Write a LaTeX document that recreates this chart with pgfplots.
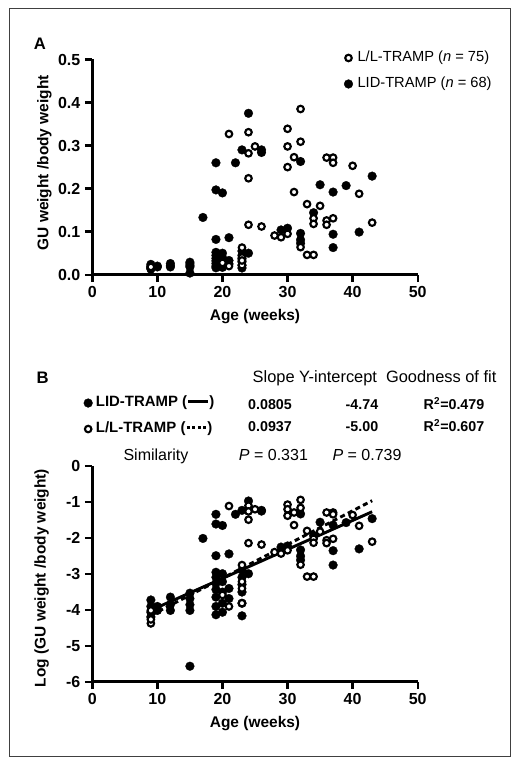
\documentclass[border=0pt]{standalone}
\usepackage{pgfplots}
\pgfplotsset{compat=1.18}
\usepackage{fontspec}
\setmainfont{Liberation Sans}
\begin{document}
\begin{tikzpicture}
\path[use as bounding box] (0,0) rectangle (397.5pt,-574.5pt);
\draw[line width=0.75pt, black!75] (6.75pt,-6.75pt) rectangle (382.5pt,-567pt);
\pgfplotsset{
  myaxis/.style={
    scale only axis, width=244.05pt, clip=false,
    axis lines=left, axis line style={-, line width=2.2pt},
    enlargelimits=false,
    xmin=0, xmax=50, xtick={0,10,20,30,40,50},
    tick align=outside, major tick length=5.5pt,
    every tick/.style={black, line width=1.8pt},
    tick label style={font=\bfseries\fontsize{12}{14}\selectfont},
    label style={font=\bfseries\fontsize{11.6}{13}\selectfont},
    /pgf/number format/assume math mode=true,
    xlabel={Age (weeks)},
    legend cell align=left,
    legend image code/.code={\draw[mark repeat=1,mark phase=1,##1] plot coordinates {(0pt,0pt)};},
  },
  lid/.style={only marks, mark=*, mark size=3.3pt, mark options={draw=black, fill=black, line width=0.2pt}},
  ll/.style={only marks, mark=*, mark size=2.45pt, mark options={draw=black, fill=white, line width=1.6pt}},
}
% ---------------- Panel A ----------------
\node[font=\bfseries\fontsize{12.5}{14}\selectfont] at (30pt,-33pt) {A};
\begin{axis}[myaxis, at={(69.225pt,-206.025pt)}, anchor=south west, height=161.4pt,
  ymin=0, ymax=0.5, ytick={0,0.1,0.2,0.3,0.4,0.5}, yticklabels={0.0,0.1,0.2,0.3,0.4,0.5},
  ylabel={GU weight /body weight},
  xlabel style={at={(axis description cs:0.5,-0.195)}, anchor=center},
  ylabel style={at={(axis description cs:-0.1475,0.52)}, anchor=center},
  reverse legend,
  legend style={at={(axis description cs:0.773,1.047)}, anchor=north west, draw=none, fill=none,
    inner sep=0pt, row sep=7pt, column sep=2.5pt, font=\fontsize{11}{13}\selectfont,
    nodes={inner sep=1pt, text height=8pt, text depth=2.5pt}},
]
\addplot[lid] coordinates {
(9,0.015) (9,0.017) (9,0.020) (9,0.024) (10,0.018) (10,0.020)
(12,0.018) (12,0.021) (12,0.026)
(15,0.0038) (15,0.018) (15,0.021) (15,0.025) (15,0.029)
(17,0.133)
(19,0.260) (19,0.197) (19,0.082) (19,0.052) (19,0.045) (19,0.038) (19,0.032) (19,0.026) (19,0.020) (19,0.016)
(20,0.190) (20,0.050) (20,0.040) (20,0.030) (20,0.022) (20,0.017)
(21,0.086) (21,0.033) (21,0.025)
(22,0.260)
(23,0.290) (23,0.055) (23,0.045) (23,0.037) (23,0.030) (23,0.022) (23,0.0155)
(24,0.375) (24,0.050)
(26,0.290) (26,0.284)
(29,0.104) (30,0.108)
(32,0.263) (32,0.096) (32,0.081) (32,0.073)
(34,0.144) (35,0.209)
(37,0.192) (37,0.094) (37,0.063)
(39,0.207) (41,0.099) (43,0.229)
};
\addlegendentry{LID-TRAMP (\textit{n} = 68)}
\addplot[ll] coordinates {
(9,0.0125) (9,0.014) (9,0.018)
(20,0.0275) (21,0.327) (21,0.020)
(23,0.063) (23,0.022) (23,0.040) (23,0.033)
(24,0.331) (24,0.282) (24,0.224) (24,0.116)
(25,0.298) (26,0.112) (28,0.091) (29,0.087)
(30,0.339) (30,0.298) (30,0.250) (30,0.095)
(31,0.273) (31,0.192)
(32,0.385) (32,0.309) (32,0.064)
(33,0.046) (33,0.164)
(34,0.046) (34,0.131) (34,0.118)
(35,0.160)
(36,0.272) (36,0.126) (36,0.116)
(37,0.272) (37,0.260) (37,0.131)
(40,0.253) (41,0.188) (43,0.121)
};
\addlegendentry{L/L-TRAMP (\textit{n} = 75)}
\end{axis}
% ---------------- Panel B ----------------
\node[font=\bfseries\fontsize{12.5}{14}\selectfont] at (31.9pt,-283.1pt) {B};
\node[anchor=base west, font=\fontsize{12.3}{14}\selectfont] at (186pt,-286.9pt) {Slope Y-intercept};
\node[anchor=base west, font=\fontsize{12.3}{14}\selectfont] at (286pt,-286.9pt) {Goodness of fit};
\begin{scope}[every node/.style={anchor=base, font=\bfseries\fontsize{10.7}{12}\selectfont}]
\node at (202.5pt,-307pt) {0.0805};
\node at (271.5pt,-307pt) {-4.74};
\node at (340.5pt,-307pt) {R\textsuperscript{2}=0.479};
\node at (202.5pt,-323.8pt) {0.0937};
\node at (271.5pt,-323.8pt) {-5.00};
\node at (340.5pt,-323.8pt) {R\textsuperscript{2}=0.607};
\end{scope}
\begin{scope}[every node/.style={anchor=base, font=\fontsize{12}{14}\selectfont}]
\node at (117pt,-345pt) {Similarity};
\node at (205.1pt,-345pt) {\textit{P} = 0.331};
\node at (275.25pt,-345pt) {\textit{P} = 0.739};
\end{scope}
\begin{axis}[myaxis, at={(69.225pt,-511.275pt)}, anchor=south west, height=162pt,
  ymin=-6, ymax=0, ytick={-6,-5,-4,-3,-2,-1,0}, yticklabels={-6,-5,-4,-3,-2,-1,0},
  ylabel={Log (GU weight /body weight)},
  xlabel style={at={(axis description cs:0.5,-0.194)}, anchor=center},
  ylabel style={at={(axis description cs:-0.156,0.48)}, anchor=center},
  legend style={at={(axis description cs:-0.027,1.33)}, anchor=north west, draw=none, fill=none,
    inner sep=0pt, row sep=7pt, column sep=1.5pt, font=\bfseries\fontsize{11.2}{12}\selectfont,
    nodes={inner sep=1pt, text height=8pt, text depth=2.5pt}},
]
\addplot[lid] coordinates {
(9,-4.20) (9,-4.07) (9,-3.91) (9,-3.73) (10,-4.02) (10,-3.91)
(12,-4.02) (12,-3.86) (12,-3.65)
(15,-5.57) (15,-4.02) (15,-3.86) (15,-3.69) (15,-3.54)
(17,-2.02)
(19,-1.35) (19,-1.62) (19,-2.50) (19,-2.96) (19,-3.10) (19,-3.27) (19,-3.44) (19,-3.65) (19,-3.91) (19,-4.14)
(20,-1.66) (20,-3.00) (20,-3.22) (20,-3.51) (20,-3.82) (20,-4.07)
(21,-2.45) (21,-3.41) (21,-3.69)
(22,-1.35)
(23,-1.24) (23,-2.90) (23,-3.10) (23,-3.30) (23,-3.51) (23,-3.82) (23,-4.17)
(24,-0.98) (24,-3.00)
(26,-1.24) (26,-1.26)
(29,-2.26) (30,-2.23)
(32,-1.34) (32,-2.34) (32,-2.51) (32,-2.62)
(34,-1.94) (35,-1.57)
(37,-1.65) (37,-2.36) (37,-2.76)
(39,-1.58) (41,-2.31) (43,-1.47)
};
\addlegendentry{LID-TRAMP (\hspace{0.8pt}\rule[2.7pt]{15pt}{2.2pt}\hspace{0.8pt})}
\addplot[ll] coordinates {
(9,-4.38) (9,-4.27) (9,-4.02)
(20,-3.59) (21,-1.12) (21,-3.91)
(23,-2.76) (23,-3.82) (23,-3.22) (23,-3.41)
(24,-1.11) (24,-1.27) (24,-1.50) (24,-2.15)
(25,-1.21) (26,-2.19) (28,-2.40) (29,-2.44)
(30,-1.08) (30,-1.21) (30,-1.39) (30,-2.35)
(31,-1.30) (31,-1.65)
(32,-0.95) (32,-1.17) (32,-2.75)
(33,-3.08) (33,-1.81)
(34,-3.08) (34,-2.03) (34,-2.14)
(35,-1.83)
(36,-1.30) (36,-2.07) (36,-2.15)
(37,-1.30) (37,-1.35) (37,-2.03)
(40,-1.37) (41,-1.67) (43,-2.11)
};
\addlegendentry{L/L-TRAMP (\hspace{0.8pt}\rule[2.7pt]{2.3pt}{2.2pt}\hspace{1.9pt}\rule[2.7pt]{2.3pt}{2.2pt}\hspace{1.9pt}\rule[2.7pt]{2.3pt}{2.2pt}\hspace{1.9pt}\rule[2.7pt]{2.3pt}{2.2pt}\hspace{0.8pt})}
\addplot[forget plot, line width=2.2pt] coordinates {(9,-4.0155) (43,-1.2785)};
\addplot[forget plot, line width=2.2pt, dash pattern=on 3.8pt off 2.6pt] coordinates {(9,-4.157) (43,-0.971)};
\end{axis}
\end{tikzpicture}
\end{document}
